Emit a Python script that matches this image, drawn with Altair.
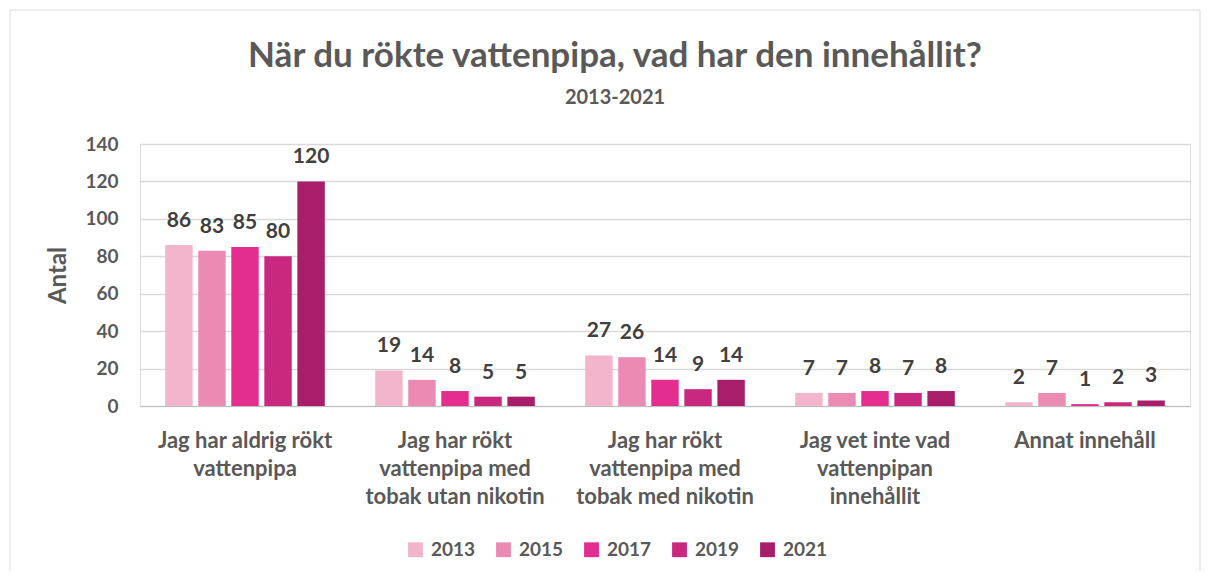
import altair as alt
import pandas as pd

categories = [
    "Jag har aldrig rökt|vattenpipa",
    "Jag har rökt|vattenpipa med|tobak utan nikotin",
    "Jag har rökt|vattenpipa med|tobak med nikotin",
    "Jag vet inte vad|vattenpipan|innehållit",
    "Annat innehåll",
]
years = ["2013", "2015", "2017", "2019", "2021"]
values = {
    "2013": [86, 19, 27, 7, 2],
    "2015": [83, 14, 26, 7, 7],
    "2017": [85, 8, 14, 8, 1],
    "2019": [80, 5, 9, 7, 2],
    "2021": [120, 5, 14, 8, 3],
}
colors = ["#F2B5CC", "#EB8AB3", "#E32E8F", "#C9287F", "#A81E6A"]

rows = []
for y in years:
    for c, v in zip(categories, values[y]):
        rows.append({"Kategori": c, "År": y, "Antal": v})
df = pd.DataFrame(rows)

FONT = "Lato"
GRAY = "#595959"

x = alt.X("Kategori:N", sort=categories, title=None,
          scale=alt.Scale(paddingInner=0.24, paddingOuter=0.12),
          axis=alt.Axis(labelExpr="split(datum.label, '|')", labelAngle=0,
                        labelFontSize=22, labelFontWeight="bold", labelColor=GRAY,
                        labelFont=FONT, labelLimit=400, labelPadding=34,
                        labelLineHeight=28, ticks=False, domainColor="#BFBFBF",
                        grid=False, labelBaseline="middle"))
xoff = alt.XOffset("År:N", sort=years, scale=alt.Scale(paddingInner=0.17))
yenc = alt.Y("Antal:Q", title="Antal",
             scale=alt.Scale(domain=[0, 140]),
             axis=alt.Axis(values=list(range(0, 141, 20)), domain=False, ticks=False,
                           labelFontSize=19, labelFontWeight="bold", labelColor=GRAY,
                           labelFont=FONT, labelPadding=22,
                           titleFontSize=24, titleFontWeight="bold", titleColor=GRAY,
                           titleFont=FONT, titlePadding=14,
                           gridColor="#D9D9D9", gridWidth=1.3))
color = alt.Color("År:N", sort=years, scale=alt.Scale(domain=years, range=colors),
                  legend=alt.Legend(title=None, orient="none", direction="horizontal",
                                    legendX=266, legendY=396, symbolType="square",
                                    symbolSize=220, symbolStrokeWidth=0,
                                    labelFontSize=19, labelFontWeight="bold",
                                    labelColor=GRAY, labelFont=FONT,
                                    columnPadding=18, labelOffset=6))

base = alt.Chart(df)
bars = base.mark_bar().encode(x=x, xOffset=xoff, y=yenc, color=color)
labels = base.mark_text(dy=-24, fontSize=21, fontWeight="bold", color="#404040",
                        font=FONT).encode(x=x, xOffset=xoff, y=yenc, text="Antal:Q")

border = alt.Chart(pd.DataFrame({"a": [0]})).mark_rect(
    fill=None, stroke="#D9D9D9", strokeWidth=1
).encode(x=alt.value(-130), x2=alt.value(1060), y=alt.value(-134), y2=alt.value(431))

chart = alt.layer(border, bars, labels).properties(
    width=1050, height=262,
    autosize=alt.AutoSizeParams(type="none"),
    padding={"left": 132, "top": 136, "right": 11, "bottom": 165},
    title=alt.Title("När du rökte vattenpipa, vad har den innehållit?",
                    subtitle="2013-2021", anchor="middle", frame="group",
                    dx=-50, offset=-98, fontSize=35, fontWeight="bold", color=GRAY,
                    font=FONT, subtitleFontSize=20, subtitleFontWeight="bold",
                    subtitleColor=GRAY, subtitleFont=FONT, subtitlePadding=14),
).configure_view(stroke=None).configure(background="white")

chart.save("out.html", embed_options={"renderer": "svg", "actions": False})
